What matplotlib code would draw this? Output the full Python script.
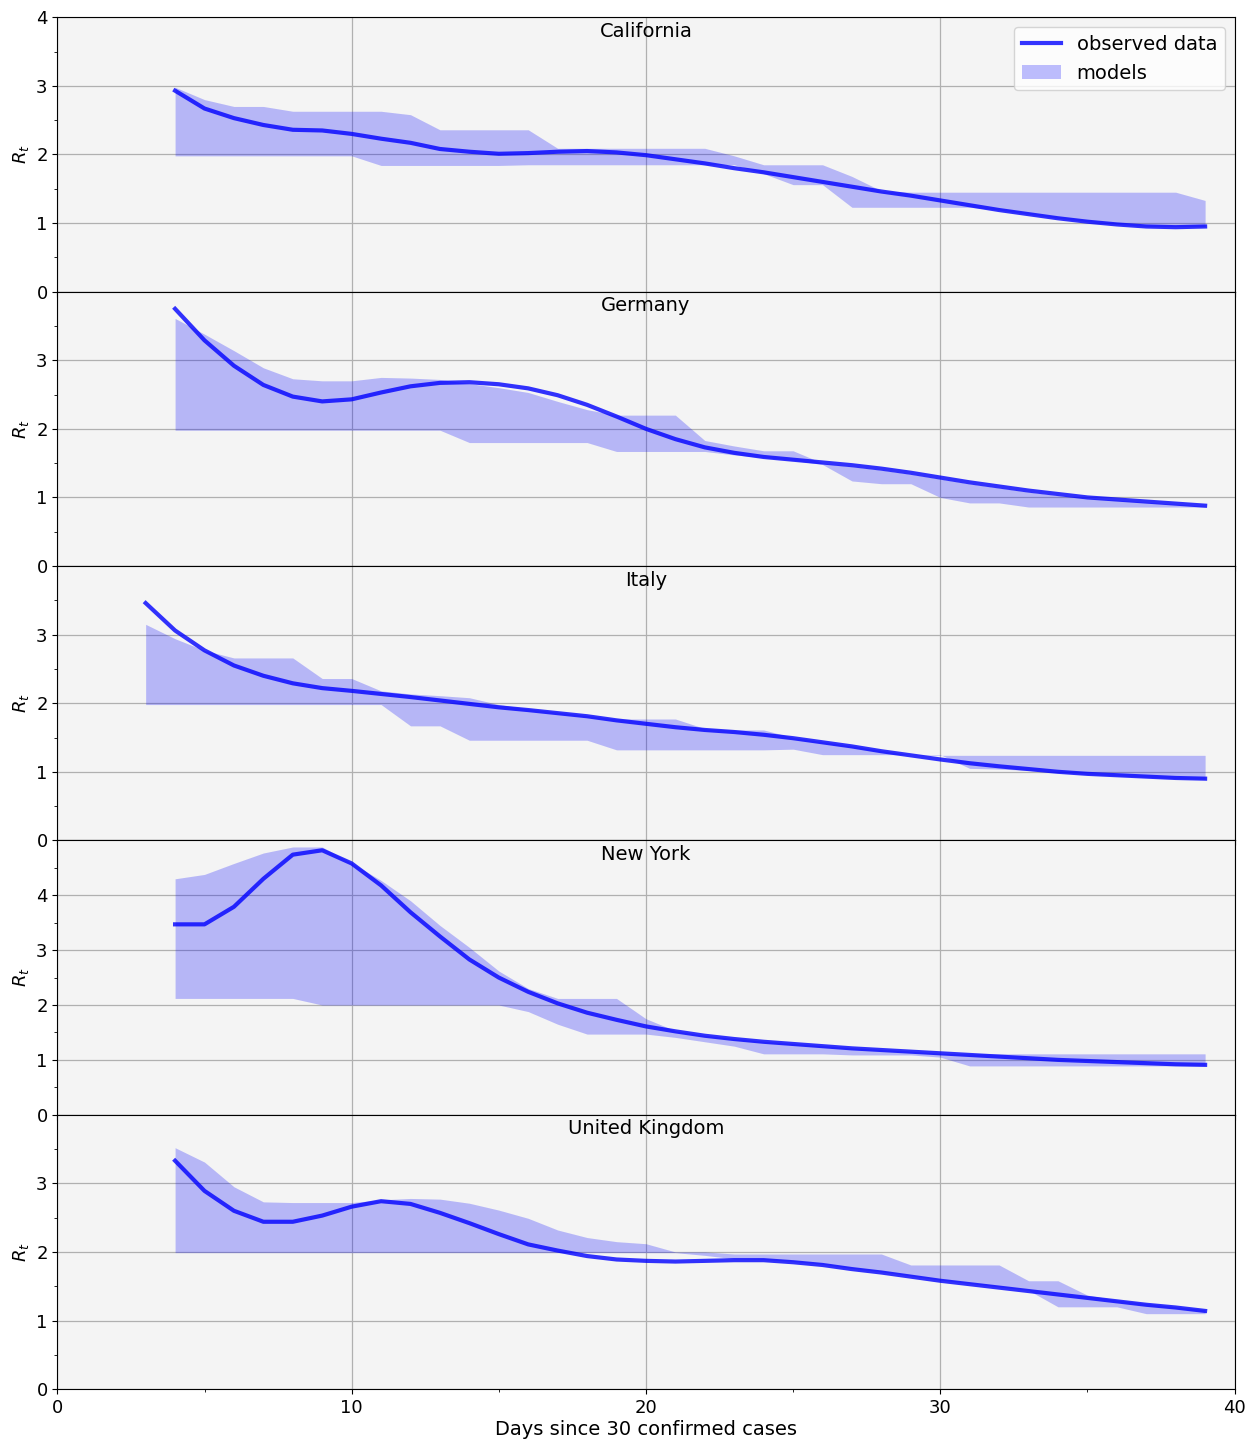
import matplotlib

matplotlib.use("Agg")
import matplotlib.pyplot as plt
from matplotlib.ticker import MultipleLocator

# Effective reproduction number per region: observed estimate plus the
# envelope (min/max) of the model runs, indexed by days since 30 cases.
regions = ["California", "Germany", "Italy", "New York", "United Kingdom"]
first_day = [4, 4, 3, 4, 4]
y_top = [4, 4, 4, 5, 4]

ca_observed = [2.93, 2.67, 2.53, 2.43, 2.36, 2.35, 2.30, 2.23, 2.17, 2.08, 2.04, 2.01,
               2.02, 2.04, 2.05, 2.03, 1.99, 1.93, 1.87, 1.80, 1.74, 1.67, 1.60, 1.53,
               1.46, 1.40, 1.33, 1.26, 1.19, 1.13, 1.07, 1.02, 0.98, 0.95, 0.94, 0.95]
ca_upper = [2.98, 2.80, 2.70, 2.70, 2.63, 2.63, 2.63, 2.63, 2.58, 2.36, 2.36, 2.36,
            2.36, 2.09, 2.09, 2.09, 2.09, 2.09, 2.09, 1.98, 1.85, 1.85, 1.85, 1.68,
            1.47, 1.45, 1.45, 1.45, 1.45, 1.45, 1.45, 1.45, 1.45, 1.45, 1.45, 1.33]
ca_lower = [1.98, 1.98, 1.98, 1.98, 1.98, 1.98, 1.98, 1.84, 1.84, 1.84, 1.84, 1.84,
            1.85, 1.85, 1.85, 1.85, 1.85, 1.85, 1.85, 1.85, 1.72, 1.56, 1.56, 1.23,
            1.23, 1.23, 1.23, 1.23, 1.19, 1.13, 1.07, 1.02, 0.98, 0.95, 0.95, 0.95]

de_observed = [3.75, 3.29, 2.92, 2.64, 2.47, 2.40, 2.43, 2.53, 2.62, 2.67, 2.68, 2.65,
               2.59, 2.49, 2.35, 2.18, 2.00, 1.85, 1.73, 1.65, 1.59, 1.55, 1.51, 1.47,
               1.42, 1.36, 1.29, 1.22, 1.16, 1.10, 1.05, 1.00, 0.97, 0.94, 0.91, 0.88]
de_upper = [3.61, 3.38, 3.14, 2.89, 2.73, 2.70, 2.70, 2.75, 2.74, 2.72, 2.66, 2.60,
            2.53, 2.40, 2.28, 2.20, 2.20, 2.20, 1.83, 1.75, 1.68, 1.68, 1.50, 1.45,
            1.40, 1.34, 1.27, 1.20, 1.14, 1.08, 1.03, 0.99, 0.96, 0.93, 0.90, 0.87]
de_lower = [1.98, 1.98, 1.98, 1.98, 1.98, 1.98, 1.98, 1.98, 1.98, 1.98, 1.80, 1.80,
            1.80, 1.80, 1.80, 1.67, 1.67, 1.67, 1.67, 1.62, 1.58, 1.54, 1.48, 1.24,
            1.20, 1.20, 1.00, 0.92, 0.92, 0.86, 0.86, 0.86, 0.86, 0.86, 0.86, 0.86]

it_observed = [3.46, 3.06, 2.77, 2.55, 2.40, 2.29, 2.22, 2.18, 2.135, 2.09, 2.04, 1.99,
               1.94, 1.90, 1.855, 1.81, 1.75, 1.70, 1.65, 1.61, 1.58, 1.54, 1.49, 1.43,
               1.37, 1.30, 1.24, 1.18, 1.125, 1.08, 1.04, 1.00, 0.97, 0.95, 0.93, 0.91,
               0.90]
it_upper = [3.15, 2.94, 2.77, 2.66, 2.66, 2.66, 2.36, 2.36, 2.18, 2.135, 2.11, 2.08,
            1.98, 1.92, 1.87, 1.82, 1.77, 1.77, 1.77, 1.63, 1.61, 1.61, 1.50, 1.44,
            1.38, 1.31, 1.25, 1.24, 1.24, 1.24, 1.24, 1.24, 1.24, 1.24, 1.24, 1.24,
            1.24]
it_lower = [1.98, 1.98, 1.98, 1.98, 1.98, 1.98, 1.98, 1.98, 1.98, 1.67, 1.67, 1.46,
            1.46, 1.46, 1.46, 1.46, 1.32, 1.32, 1.32, 1.32, 1.32, 1.32, 1.33, 1.25,
            1.25, 1.25, 1.25, 1.25, 1.05, 1.04, 1.02, 0.99, 0.96, 0.94, 0.92, 0.90,
            0.89]

ny_observed = [3.47, 3.47, 3.79, 4.30, 4.74, 4.82, 4.58, 4.18, 3.69, 3.25, 2.83, 2.50,
               2.24, 2.03, 1.86, 1.73, 1.61, 1.52, 1.44, 1.38, 1.33, 1.29, 1.25, 1.21,
               1.18, 1.15, 1.12, 1.09, 1.06, 1.03, 1.00, 0.98, 0.96, 0.94, 0.92, 0.91]
ny_upper = [4.30, 4.38, 4.58, 4.77, 4.88, 4.88, 4.59, 4.27, 3.90, 3.45, 3.05, 2.62,
            2.30, 2.12, 2.12, 2.12, 1.75, 1.53, 1.45, 1.39, 1.34, 1.30, 1.26, 1.22,
            1.19, 1.16, 1.12, 1.11, 1.11, 1.11, 1.11, 1.11, 1.11, 1.11, 1.11, 1.11]
ny_lower = [2.12, 2.12, 2.12, 2.12, 2.12, 2.00, 2.00, 2.00, 2.00, 2.00, 2.00, 2.00,
            1.88, 1.65, 1.47, 1.47, 1.47, 1.41, 1.33, 1.25, 1.11, 1.11, 1.11, 1.09,
            1.09, 1.09, 1.05, 0.89, 0.89, 0.89, 0.89, 0.89, 0.89, 0.89, 0.89, 0.89]

uk_observed = [3.33, 2.89, 2.60, 2.44, 2.44, 2.53, 2.66, 2.74, 2.70, 2.57, 2.42, 2.26,
               2.11, 2.02, 1.94, 1.89, 1.87, 1.86, 1.87, 1.88, 1.88, 1.85, 1.81, 1.75,
               1.70, 1.64, 1.58, 1.53, 1.48, 1.43, 1.38, 1.33, 1.28, 1.23, 1.19, 1.14]
uk_upper = [3.52, 3.31, 2.95, 2.73, 2.72, 2.72, 2.72, 2.76, 2.78, 2.77, 2.71, 2.61,
            2.49, 2.32, 2.21, 2.15, 2.12, 2.00, 2.00, 1.97, 1.97, 1.97, 1.97, 1.97,
            1.97, 1.81, 1.81, 1.81, 1.81, 1.58, 1.58, 1.37, 1.30, 1.25, 1.20, 1.16]
uk_lower = [1.99, 1.99, 1.99, 1.99, 1.99, 1.99, 1.99, 1.99, 1.99, 1.99, 1.99, 1.99,
            1.99, 1.99, 1.99, 1.99, 1.99, 1.99, 1.95, 1.90, 1.89, 1.86, 1.82, 1.76,
            1.71, 1.65, 1.59, 1.54, 1.49, 1.44, 1.20, 1.20, 1.20, 1.10, 1.10, 1.10]

observed = [ca_observed, de_observed, it_observed, ny_observed, uk_observed]
upper = [ca_upper, de_upper, it_upper, ny_upper, uk_upper]
lower = [ca_lower, de_lower, it_lower, ny_lower, uk_lower]

plt.rcParams["font.size"] = 13

fig, axes = plt.subplots(len(regions), 1, figsize=(12.47, 14.41), dpi=100, sharex=True)
fig.subplots_adjust(left=0.046, right=0.99, top=0.988, bottom=0.036, hspace=0)

for i, ax in enumerate(axes):
    days = list(range(first_day[i], first_day[i] + len(observed[i])))
    ax.set_facecolor("#f4f4f4")
    ax.set_axisbelow(True)
    ax.grid(True, color="#b0b0b0", linewidth=0.9)

    band = ax.fill_between(days, lower[i], upper[i], color="blue", alpha=0.25,
                           linewidth=0, label="models")
    (line,) = ax.plot(days, observed[i], color="blue", alpha=0.8, linewidth=3,
                      label="observed data")

    ax.text(0.5, 0.949, regions[i], transform=ax.transAxes, ha="center",
            va="center", fontsize=14)

    ax.set_ylim(0, y_top[i])
    # the top label would collide with the zero of the panel above
    last = y_top[i] + 1 if i == 0 else y_top[i]
    ax.set_yticks(range(0, last))
    ax.yaxis.set_minor_locator(MultipleLocator(0.5))
    ax.set_ylabel("$R_t$", fontsize=13)
    ax.tick_params(labelsize=13)

    if i == 0:
        ax.legend([line, band], ["observed data", "models"], loc="upper right",
                  fontsize=14)

ax = axes[-1]
ax.set_xlim(0, 40)
ax.xaxis.set_major_locator(MultipleLocator(10))
ax.xaxis.set_minor_locator(MultipleLocator(5))
ax.set_xlabel("Days since 30 confirmed cases", fontsize=14, labelpad=2)

fig.savefig("out.png", dpi=100)
